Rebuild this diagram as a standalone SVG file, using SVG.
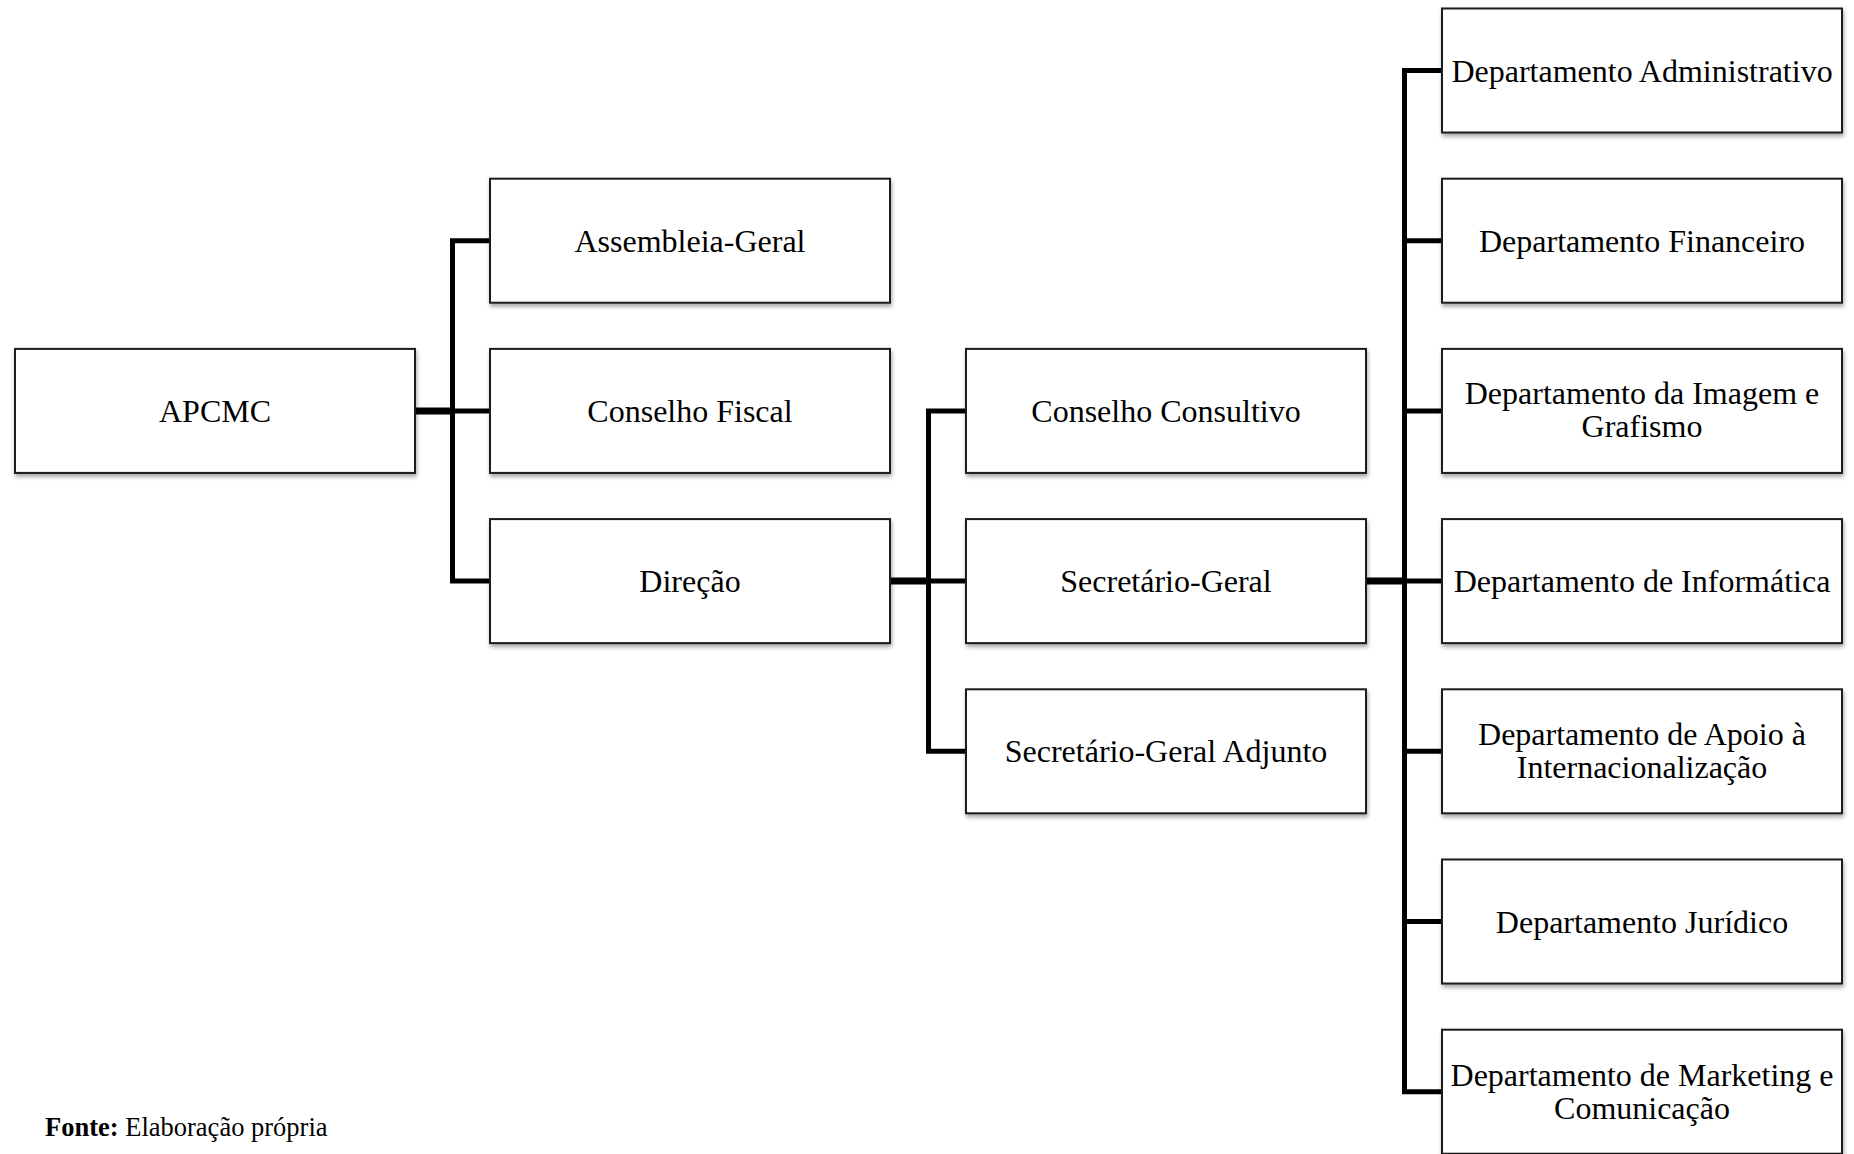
<svg xmlns="http://www.w3.org/2000/svg" width="1854" height="1154" viewBox="0 0 1854 1154">
<defs>
<filter id="sh" x="-5%" y="-10%" width="115%" height="130%">
<feGaussianBlur in="SourceAlpha" stdDeviation="2"/>
<feOffset dx="1" dy="3" result="b"/>
<feComponentTransfer><feFuncA type="linear" slope="0.35"/></feComponentTransfer>
<feMerge><feMergeNode/><feMergeNode in="SourceGraphic"/></feMerge>
</filter>
</defs>
<style>
.box{fill:#fff;stroke:#1a1a1a;stroke-width:2;filter:url(#sh)}
.t{font-family:"Liberation Serif","Times New Roman",serif;font-size:32px;fill:#000;text-anchor:middle}
.trunk{stroke:#000;stroke-width:7;fill:none}
.br{stroke:#000;stroke-width:5;fill:none}
.cap{font-family:"Liberation Serif","Times New Roman",serif;font-size:26.5px;fill:#000}
</style>
<rect width="1854" height="1154" fill="#fff"/>
<g id="connectors">
<path class="trunk" d="M415 410.9H452.5"/>
<path class="br" d="M452.5 238.2V583.6M452.5 240.7H490M452.5 410.9H490M452.5 581.1H490"/>
<path class="trunk" d="M890 581.1H928.5"/>
<path class="br" d="M928.5 408.4V753.8M928.5 410.9H966M928.5 581.1H966M928.5 751.3H966"/>
<path class="trunk" d="M1366 581.1H1404.5"/>
<path class="br" d="M1404.5 68V1094.2M1404.5 70.5H1442M1404.5 240.7H1442M1404.5 410.9H1442M1404.5 581.1H1442M1404.5 751.3H1442M1404.5 921.5H1442M1404.5 1091.7H1442"/>
</g>
<g id="apcmc"><rect class="box" x="15" y="348.9" width="400" height="124"/><text class="t" x="215" y="421.9">APCMC</text></g>
<g id="assembleia"><rect class="box" x="490" y="178.7" width="400" height="124"/><text class="t" x="690" y="251.7">Assembleia-Geral</text></g>
<g id="conselho-fiscal"><rect class="box" x="490" y="348.9" width="400" height="124"/><text class="t" x="690" y="421.9">Conselho Fiscal</text></g>
<g id="direcao"><rect class="box" x="490" y="519.1" width="400" height="124"/><text class="t" x="690" y="592.1">Direção</text></g>
<g id="conselho-consultivo"><rect class="box" x="966" y="348.9" width="400" height="124"/><text class="t" x="1166" y="421.9">Conselho Consultivo</text></g>
<g id="secretario-geral"><rect class="box" x="966" y="519.1" width="400" height="124"/><text class="t" x="1166" y="592.1">Secretário-Geral</text></g>
<g id="secretario-adjunto"><rect class="box" x="966" y="689.3" width="400" height="124"/><text class="t" x="1166" y="762.3">Secretário-Geral Adjunto</text></g>
<g id="dep-administrativo"><rect class="box" x="1442" y="8.5" width="400" height="124"/><text class="t" x="1642" y="81.5">Departamento Administrativo</text></g>
<g id="dep-financeiro"><rect class="box" x="1442" y="178.7" width="400" height="124"/><text class="t" x="1642" y="251.7">Departamento Financeiro</text></g>
<g id="dep-imagem"><rect class="box" x="1442" y="348.9" width="400" height="124"/><text class="t" x="1642" y="404.4">Departamento da Imagem e</text><text class="t" x="1642" y="437.4">Grafismo</text></g>
<g id="dep-informatica"><rect class="box" x="1442" y="519.1" width="400" height="124"/><text class="t" x="1642" y="592.1">Departamento de Informática</text></g>
<g id="dep-apoio"><rect class="box" x="1442" y="689.3" width="400" height="124"/><text class="t" x="1642" y="744.8">Departamento de Apoio à</text><text class="t" x="1642" y="777.8">Internacionalização</text></g>
<g id="dep-juridico"><rect class="box" x="1442" y="859.5" width="400" height="124"/><text class="t" x="1642" y="932.5">Departamento Jurídico</text></g>
<g id="dep-marketing"><rect class="box" x="1442" y="1029.7" width="400" height="124"/><text class="t" x="1642" y="1086.2">Departamento de Marketing e</text><text class="t" x="1642" y="1119.2">Comunicação</text></g>
<text class="cap" x="45" y="1136"><tspan font-weight="bold">Fonte:</tspan> Elaboração própria</text>
</svg>
